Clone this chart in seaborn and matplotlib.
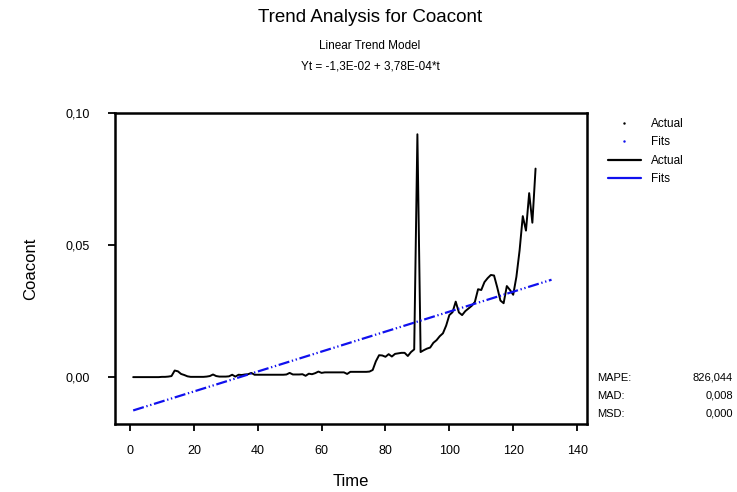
import numpy as np
import pandas as pd
import matplotlib
matplotlib.use("Agg")
import matplotlib.pyplot as plt
from matplotlib.lines import Line2D
import seaborn as sns

# Observed Coacont series, t = 1..127
actual = [
    0.0000, 0.0000, 0.0000, 0.0000, 0.0000, 0.0000, 0.0000, 0.0000, 0.0000, 0.0001,
    0.0001, 0.0002, 0.0004, 0.0025, 0.0022, 0.0012, 0.0008, 0.0003, 0.0001, 0.0001,
    0.0001, 0.0001, 0.0001, 0.0002, 0.0004, 0.0010, 0.0004, 0.0002, 0.0002, 0.0002,
    0.0003, 0.0009, 0.0002, 0.0009, 0.0008, 0.0010, 0.0011, 0.0016, 0.0009, 0.0009,
    0.0009, 0.0009, 0.0009, 0.0009, 0.0009, 0.0009, 0.0009, 0.0009, 0.0010, 0.0016,
    0.0010, 0.0010, 0.0010, 0.0011, 0.0005, 0.0013, 0.0011, 0.0015, 0.0021, 0.0016,
    0.0018, 0.0018, 0.0018, 0.0018, 0.0018, 0.0018, 0.0018, 0.0012, 0.0020, 0.0020,
    0.0020, 0.0020, 0.0020, 0.0020, 0.0021, 0.0027, 0.0060, 0.0083, 0.0082, 0.0077,
    0.0087, 0.0078, 0.0088, 0.0090, 0.0092, 0.0092, 0.0080, 0.0095, 0.0105, 0.0920,
    0.0095, 0.0102, 0.0108, 0.0112, 0.0130, 0.0140, 0.0155, 0.0166, 0.0195, 0.0235,
    0.0246, 0.0286, 0.0245, 0.0235, 0.0250, 0.0260, 0.0270, 0.0285, 0.0333, 0.0330,
    0.0360, 0.0375, 0.0387, 0.0385, 0.0340, 0.0290, 0.0280, 0.0345, 0.0330, 0.0312,
    0.0380, 0.0480, 0.0610, 0.0555, 0.0697, 0.0585, 0.0790,
]

# Linear trend model coefficients (Yt = b0 + b1*t)
intercept = -1.3e-02
slope = 3.78e-04
n_fit = 132

x_ticks = [0, 20, 40, 60, 80, 100, 120, 140]
y_ticks = [0.00, 0.05, 0.10]
y_tick_labels = ["0,00", "0,05", "0,10"]

legend_labels = ["Actual", "Fits", "Actual", "Fits"]
accuracy_names = ["MAPE:", "MAD:", "MSD:"]
accuracy_values = ["826,044", "0,008", "0,000"]

t_act = np.arange(1, len(actual) + 1)
t_fit = np.arange(1, n_fit + 1)
fits = intercept + slope * t_fit

df_act = pd.DataFrame({"Time": t_act, "Coacont": actual})
df_fit = pd.DataFrame({"Time": t_fit, "Coacont": fits})

sns.set_style("white")
plt.rcParams["font.family"] = ["Liberation Sans", "DejaVu Sans"]
plt.rcParams.update({
    "text.color": "black",
    "axes.labelcolor": "black",
    "xtick.color": "black",
    "ytick.color": "black",
})

BLUE = "#1010ee"

fig = plt.figure(figsize=(7.37, 4.92), dpi=100)
ax = fig.add_axes([0.156, 0.138, 0.640, 0.632])

sns.lineplot(data=df_act, x="Time", y="Coacont", ax=ax, color="black",
             linewidth=1.4, estimator=None)
sns.lineplot(data=df_fit, x="Time", y="Coacont", ax=ax, color=BLUE,
             linewidth=1.6, estimator=None, dashes=False)
ax.lines[-1].set_dashes([5, 1.2, 0.6, 1.2, 0.6, 1.2])

ax.set_xlim(-4.7, 143)
ax.set_ylim(-0.0178, 0.10)
ax.set_xticks(x_ticks)
ax.set_yticks(y_ticks)
ax.set_yticklabels(y_tick_labels)
ax.tick_params(axis="both", direction="out", length=5, width=1.3,
               labelsize=9, color="black", bottom=True, left=True)
ax.tick_params(axis="x", pad=10)
ax.tick_params(axis="y", pad=13)
for sp in ax.spines.values():
    sp.set_linewidth(1.8)
    sp.set_color("black")
ax.set_xlabel("Time", fontsize=12, labelpad=12)
ax.set_ylabel("Coacont", fontsize=12, labelpad=20)

fig.text(0.502, 0.965, "Trend Analysis for Coacont", ha="center", va="center", fontsize=13.5)
fig.text(0.502, 0.907, "Linear Trend Model", ha="center", va="center", fontsize=8.5)
fig.text(0.502, 0.864, "Yt = -1,3E-02 + 3,78E-04*t", ha="center", va="center", fontsize=8.5)

handles = [
    Line2D([], [], linestyle="none", marker=".", markersize=1.5, color="black"),
    Line2D([], [], linestyle="none", marker=".", markersize=1.5, color=BLUE),
    Line2D([], [], color="black", linewidth=1.6),
    Line2D([], [], color=BLUE, linewidth=1.6),
]
fig.legend(handles, legend_labels, loc="upper left", bbox_to_anchor=(0.810, 0.782),
           frameon=False, fontsize=8.5, handlelength=2.8, labelspacing=0.55,
           handletextpad=0.9)

for i, (name, val) in enumerate(zip(accuracy_names, accuracy_values)):
    y = 1 - (378 + i * 18) / 492
    fig.text(597 / 737, y, name, ha="left", va="center", fontsize=8)
    fig.text(733 / 737, y, val, ha="right", va="center", fontsize=8)

fig.savefig("out.png", dpi=100)
